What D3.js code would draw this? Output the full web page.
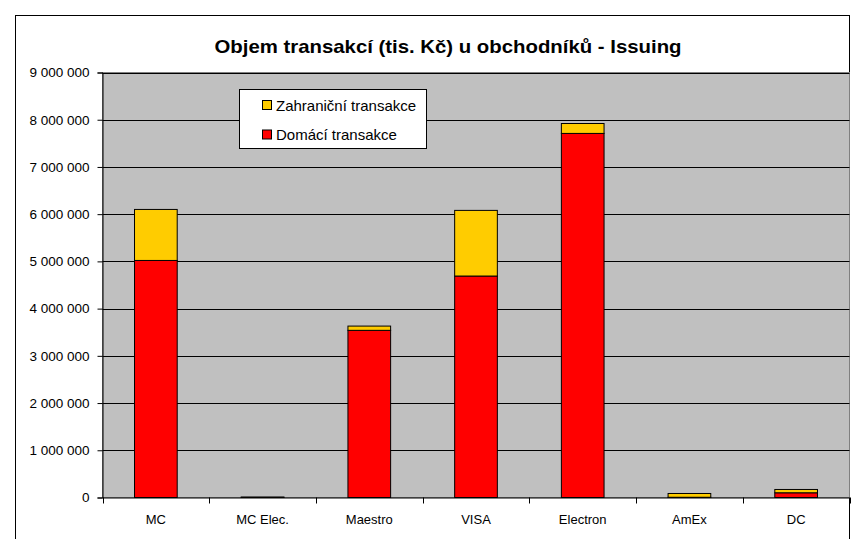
<!DOCTYPE html>
<html><head><meta charset="utf-8">
<script src="https://cdn.jsdelivr.net/npm/d3@7"></script>
<style>body{margin:0;background:#fff;}svg{display:block;font-family:Arial,"Liberation Sans",sans-serif;}</style>
</head><body>
<svg id="c" width="852" height="539"></svg>
<script>
const categories = ["MC","MC Elec.","Maestro","VISA","Electron","AmEx","DC"];
const domestic = [5020000, 5000, 3540000, 4690000, 7710000, 5000, 100000];
const foreign = [1080000, 3000, 90000, 1390000, 210000, 80000, 70000];
const yTicks = [0,1000000,2000000,3000000,4000000,5000000,6000000,7000000,8000000,9000000];
const seriesNames = ["Zahraniční transakce","Domácí transakce"];
const colors = {dom:"#FF0000", for:"#FFCC00"};

const svg = d3.select("#c");
const L=102.5, R=849.5, T=72.5, B=497.5;
svg.append("rect").attr("x",15.5).attr("y",15.5).attr("width",834).attr("height",540).attr("fill","#fff").attr("stroke","#000");
svg.append("text").attr("x",448).attr("y",53).attr("text-anchor","middle").attr("font-size","19px").attr("font-weight","bold")
  .attr("textLength",467).attr("lengthAdjust","spacingAndGlyphs").text("Objem transakcí (tis. Kč) u obchodníků - Issuing");

const x = d3.scaleBand().domain(categories).range([L,R]).paddingInner(0).paddingOuter(0);
const y = d3.scaleLinear().domain([0,9000000]).range([B,T]);
svg.append("rect").attr("x",L).attr("y",T).attr("width",R-L).attr("height",B-T).attr("fill","#C0C0C0").attr("stroke","#808080");
svg.append("g").selectAll("line").data(yTicks.slice(1)).join("line")
  .attr("x1",L).attr("x2",R).attr("y1",d=>Math.round(y(d))+0.5).attr("y2",d=>Math.round(y(d))+0.5).attr("stroke","#000");

const fmt = v => d3.format(",")(v).replace(/,/g," ");
const ya = svg.append("g").attr("transform",`translate(${L},0)`).call(d3.axisLeft(y).tickValues(yTicks).tickFormat(fmt).tickSize(5).tickPadding(8));
ya.select(".domain").attr("stroke","#000");
ya.selectAll("text").attr("font-size","13.5px").attr("font-family","Arial,'Liberation Sans',sans-serif").attr("fill","#000");

const bw = x.bandwidth()/2.5;
const g = svg.append("g");
categories.forEach((c,i)=>{
  const cx = x(c)+x.bandwidth()/2;
  g.append("rect").attr("x",cx-bw/2).attr("width",bw).attr("y",y(domestic[i])).attr("height",y(0)-y(domestic[i]))
    .attr("fill",colors.dom).attr("stroke","#000").attr("stroke-width",1);
  g.append("rect").attr("x",cx-bw/2).attr("width",bw).attr("y",y(domestic[i]+foreign[i])).attr("height",y(domestic[i])-y(domestic[i]+foreign[i]))
    .attr("fill",colors.for).attr("stroke","#000").attr("stroke-width",1);
});

const xa = svg.append("g").attr("transform",`translate(0,${B})`).call(d3.axisBottom(x).tickSize(0).tickPadding(17));
xa.select(".domain").attr("stroke","#000");
xa.selectAll("text").attr("font-size","13px").attr("font-family","Arial,'Liberation Sans',sans-serif").attr("fill","#000");
const bounds = categories.map(c=>x(c)).concat([R]);
svg.append("g").selectAll("line").data(bounds).join("line")
  .attr("x1",d=>Math.round(d)+0.5).attr("x2",d=>Math.round(d)+0.5).attr("y1",B).attr("y2",B+6).attr("stroke","#000");

const lg = svg.append("g");
const box = lg.append("rect").attr("x",239.5).attr("y",89.5).attr("height",59).attr("fill","#fff").attr("stroke","#000");
const items = [{n:seriesNames[0],c:colors.for},{n:seriesNames[1],c:colors.dom}];
let maxEnd = 0;
items.forEach((it,i)=>{
  const yy = 100.5 + i*29.5;
  lg.append("rect").attr("x",262.5).attr("y",yy).attr("width",9).attr("height",9).attr("fill",it.c).attr("stroke","#000");
  const t = lg.append("text").attr("x",276).attr("y",yy+10).attr("font-size","15px").attr("fill","#000").text(it.n);
  maxEnd = Math.max(maxEnd, 276 + t.node().getComputedTextLength());
});
box.attr("width", Math.round(maxEnd + 10 - 239.5));
</script>
</body></html>
